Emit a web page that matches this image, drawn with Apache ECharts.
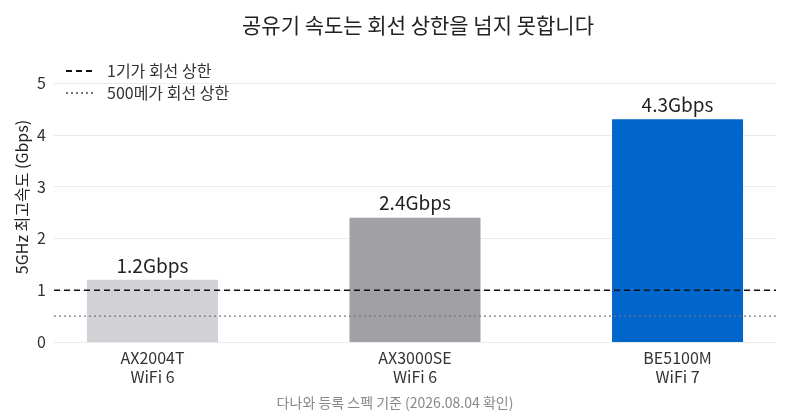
<!DOCTYPE html>
<html><head><meta charset="utf-8">
<script src="https://cdn.jsdelivr.net/npm/echarts@6/dist/echarts.min.js"></script>
<style>html,body{margin:0;padding:0;background:#fff}#c{width:790px;height:420px}</style>
</head><body><div id="c"></div>
<script>
const categories = ['AX2004T\nWiFi 6', 'AX3000SE\nWiFi 6', 'BE5100M\nWiFi 7'];
const speeds = [1.2, 2.4, 4.3];
const barColors = ['#d1d1d6', '#a1a0a5', '#0066cc'];
const lineGiga = 1;
const line500 = 0.5;
const yTicks = [0, 1, 2, 3, 4, 5];

const font = '"Noto Sans CJK KR", "Noto Sans", sans-serif';
const xMin = -0.375, xMax = categories.length - 1 + 0.375;
const chart = echarts.init(document.getElementById('c'));
chart.setOption({
  backgroundColor: '#fff',
  animation: false,
  textStyle: { fontFamily: font },
  title: {
    text: '공유기 속도는 회선 상한을 넘지 못합니다',
    left: 413, top: 10, textAlign: 'center',
    textStyle: { fontFamily: font, fontSize: 21, fontWeight: 'normal', color: '#222' }
  },
  graphic: [{
    type: 'text', left: 'center', top: 396,
    style: { text: '다나와 등록 스펙 기준 (2026.08.04 확인)', fontFamily: font, fontSize: 14, fill: '#888' }
  }, {
    type: 'text', x: 22, y: 197, rotation: Math.PI / 2,
    style: { text: '5GHz 최고속도 (Gbps)', fontFamily: font, fontSize: 16, fill: '#222',
      align: 'center', verticalAlign: 'middle' }
  }],
  legend: {
    orient: 'vertical', left: 60, top: 58, itemGap: 6, itemWidth: 30, itemHeight: 19,
    textStyle: { fontFamily: font, fontSize: 16, color: '#333', padding: [0, 0, 0, 6] },
    itemStyle: { opacity: 0 },
    data: ['1기가 회선 상한', '500메가 회선 상한']
  },
  grid: { left: 54, right: 14, top: 83, bottom: 78 },
  xAxis: {
    type: 'value', min: xMin, max: xMax,
    splitLine: { show: false }, axisTick: { show: false },
    axisLine: { show: false },
    axisLabel: {
      customValues: categories.map((_, i) => i),
      formatter: v => categories[Math.round(v)] || '',
      fontFamily: font, fontSize: 16, color: '#333', lineHeight: 19, margin: 6
    }
  },
  yAxis: {
    type: 'value', min: 0, max: 5, interval: 1,
    axisLine: { show: false }, axisTick: { show: false },
    axisLabel: { fontFamily: font, fontSize: 16, color: '#333', margin: 8,
      formatter: v => yTicks.includes(v) ? String(v) : '' },
    splitLine: { lineStyle: { color: '#ebebeb', width: 1 } }
  },
  series: [
    {
      type: 'bar', barWidth: 131, z: 2,
      data: speeds.map((v, i) => ({ value: [i, v], itemStyle: { color: barColors[i] } })),
      label: { show: true, position: 'top', distance: 5, fontFamily: font, fontSize: 19, color: '#222',
        formatter: p => p.value[1] + 'Gbps' }
    },
    {
      name: '1기가 회선 상한', type: 'line', symbol: 'none', z: 5, silent: true,
      color: '#111',
      lineStyle: { color: '#111', width: 1.6, type: [6, 4] },
      data: [[xMin, lineGiga], [xMax, lineGiga]]
    },
    {
      name: '500메가 회선 상한', type: 'line', symbol: 'none', z: 5, silent: true,
      color: '#777',
      lineStyle: { color: '#777', width: 1.4, type: [2, 3] },
      data: [[xMin, line500], [xMax, line500]]
    }
  ]
});
</script></body></html>
